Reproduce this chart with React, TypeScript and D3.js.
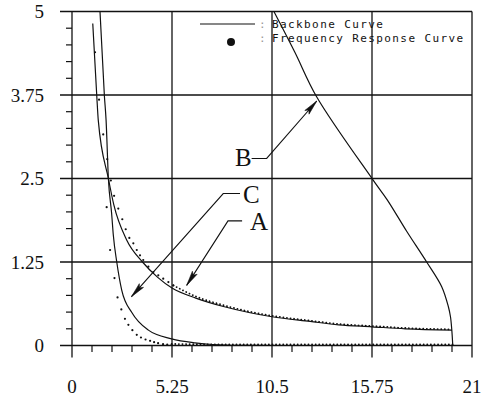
import React from 'react';
import * as d3 from 'd3';

type P = [number, number];

const X_TICKS = [0, 5.25, 10.5, 15.75, 21];
const X_TICK_LABELS = ['0', '5.25', '10.5', '15.75', '21'];
const Y_TICKS = [0, 1.25, 2.5, 3.75, 5];
const Y_TICK_LABELS = ['0', '1.25', '2.5', '3.75', '5'];
const X_MINOR_STEP = 1.05;
const Y_MINOR_STEP = 0.25;

// Backbone curves (frequency, amplitude)
const backboneA: P[] = [
  [1.09, 4.82], [1.3, 3.74], [1.38, 3.37], [1.91, 2.5], [2.2, 2.1], [2.87, 1.58],
  [3.7, 1.25], [4.5, 1.02], [5.25, 0.86], [6.5, 0.71], [8.0, 0.58], [9.35, 0.49],
  [10.5, 0.43], [12.5, 0.36], [14.0, 0.31], [15.75, 0.28], [17.5, 0.25], [19.95, 0.23],
];
const backboneB: P[] = [
  [10.6, 5.0], [11.7, 4.39], [12.85, 3.72], [15.8, 2.48], [16.55, 2.18], [17.57, 1.71],
  [18.62, 1.25], [19.41, 0.88], [19.76, 0.58], [19.87, 0.43], [19.94, 0.23], [19.99, 0.0],
];
const backboneC: P[] = [
  [1.47, 5.0], [1.7, 3.74], [1.79, 3.37], [1.91, 2.5], [2.08, 1.98], [2.17, 1.65],
  [2.35, 1.25], [2.61, 0.83], [3.15, 0.49], [4.01, 0.23], [5.23, 0.1], [6.46, 0.04],
  [7.4, 0.015], [8.82, 0.003], [10.9, 0.0],
];

// Frequency response points
const freqA: P[] = [
  [1.21, 4.39], [1.42, 3.68], [1.64, 3.16], [1.85, 2.79], [2.04, 2.47], [2.21, 2.24],
  [2.43, 2.05], [2.64, 1.89], [2.82, 1.74], [3.01, 1.61], [3.22, 1.53], [3.4, 1.43],
  [3.57, 1.35], [3.74, 1.28], [4.01, 1.18], [4.27, 1.1], [4.53, 1.05], [4.79, 1.0],
  [5.06, 0.95], [5.32, 0.9],
];
const freqATail: P[] = [
  [5.32, 0.9], [6.5, 0.735], [8.0, 0.6], [9.35, 0.505], [10.5, 0.445], [12.5, 0.372],
  [14.0, 0.322], [15.75, 0.292], [17.5, 0.262], [19.9, 0.242],
];
const freqC: P[] = [
  [1.82, 2.07], [2.0, 1.43], [2.23, 1.01], [2.39, 0.72], [2.59, 0.54], [2.78, 0.4],
  [2.96, 0.31], [3.17, 0.23], [3.4, 0.16], [3.62, 0.12], [3.86, 0.09], [4.1, 0.07],
  [4.31, 0.05], [4.52, 0.035], [4.78, 0.02], [5.0, 0.012], [5.23, 0.008],
];
const freqCTail: P[] = [
  [5.23, 0.008], [7.0, 0.003], [10.0, 0.0], [20.0, 0.0],
];

const LEGEND_LABELS = ['Backbone Curve', 'Frequency Response Curve'];

// Annotations: label position and leader path (data units), last point = arrow tip
const ANNOTATIONS: { label: string; at: P; path: P[] }[] = [
  { label: 'B', at: [8.56, 2.68], path: [[9.43, 2.8], [10.22, 2.8], [12.85, 3.66]] },
  { label: 'C', at: [8.98, 2.13], path: [[8.82, 2.275], [7.94, 2.275], [3.12, 0.73]] },
  { label: 'A', at: [9.35, 1.73], path: [[8.93, 1.865], [8.19, 1.865], [6.02, 0.9]] },
];

const W = 483;
const H = 399;

export default function App() {
  const x = d3.scaleLinear().domain([0, 21]).range([72, 472]);
  const y = d3.scaleLinear().domain([0, 5]).range([345.5, 11.5]);
  const x0 = x(0), x1 = x(21), y0 = y(0), y1 = y(5);

  const lineMono = d3.line<P>().x(d => x(d[0])).y(d => y(d[1])).curve(d3.curveMonotoneX);
  const lineCR = d3.line<P>().x(d => x(d[0])).y(d => y(d[1])).curve(d3.curveCatmullRom.alpha(0.5));
  const lineLin = d3.line<P>().x(d => x(d[0])).y(d => y(d[1]));

  const xMinor = d3.range(0, 21 + 1e-6, X_MINOR_STEP).filter(v => !X_TICKS.some(t => Math.abs(t - v) < 1e-6));
  const yMinor = d3.range(0, 5 + 1e-6, Y_MINOR_STEP).filter(v => !Y_TICKS.some(t => Math.abs(t - v) < 1e-6));

  const stroke = '#111';

  const arrowHead = (from: P, tip: P, len = 15, hw = 2.8) => {
    const fx = x(from[0]), fy = y(from[1]), tx = x(tip[0]), ty = y(tip[1]);
    const dx = tx - fx, dy = ty - fy;
    const d = Math.hypot(dx, dy);
    const ux = dx / d, uy = dy / d;
    const bx = tx - ux * len, by = ty - uy * len;
    const nx = -uy, ny = ux;
    return `M${tx},${ty}L${bx + nx * hw},${by + ny * hw}L${bx + ux * 3},${by + uy * 3}L${bx - nx * hw},${by - ny * hw}Z`;
  };

  return (
    <svg width={W} height={H} style={{ position: 'absolute', left: 0, top: 0, background: '#fff' }}>
      <defs>
        <clipPath id="plot">
          <rect x={x0} y={y1} width={x1 - x0} height={y0 - y1} />
        </clipPath>
      </defs>
      <rect x={0} y={0} width={W} height={H} fill="#fff" />

      {/* horizontal grid lines */}
      {Y_TICKS.map(t => (
        <line key={'hy' + t} x1={60} x2={x1} y1={y(t)} y2={y(t)} stroke={stroke} strokeWidth={1.3} />
      ))}
      {/* vertical grid lines */}
      {X_TICKS.map(t => (
        <line key={'vx' + t} x1={x(t)} x2={x(t)} y1={y1} y2={y0 + 12} stroke={stroke} strokeWidth={1.3} />
      ))}
      {xMinor.map(t => (
        <line key={'mx' + t} x1={x(t)} x2={x(t)} y1={y0} y2={y0 + 6.5} stroke={stroke} strokeWidth={1.2} />
      ))}
      {yMinor.map(t => (
        <line key={'my' + t} x1={x0 - 6} x2={x0} y1={y(t)} y2={y(t)} stroke={stroke} strokeWidth={1.2} />
      ))}

      {/* tick labels */}
      {Y_TICKS.map((t, i) => (
        <text key={'yl' + t} x={44} y={y(t)} dy="0.35em" textAnchor="end"
          fontFamily="'Liberation Serif', serif" fontSize={19} fill={stroke}>{Y_TICK_LABELS[i]}</text>
      ))}
      {X_TICKS.map((t, i) => (
        <text key={'xl' + t} x={x(t)} y={393} textAnchor="middle"
          fontFamily="'Liberation Serif', serif" fontSize={19} fill={stroke}>{X_TICK_LABELS[i]}</text>
      ))}

      <g clipPath="url(#plot)" fill="none" stroke={stroke}>
        <path d={lineMono(backboneA) || ''} strokeWidth={1.2} />
        <path d={lineCR(backboneB) || ''} strokeWidth={1.2} />
        <path d={lineMono(backboneC) || ''} strokeWidth={1.2} />
        <path d={lineMono(freqATail) || ''} strokeWidth={1.8} strokeDasharray="0.1 3.5" strokeLinecap="round" />
        <path d={lineMono(freqCTail) || ''} strokeWidth={1.8} strokeDasharray="0.1 3.5" strokeLinecap="round" transform="translate(0,-1)" />
      </g>
      {freqA.map((p, i) => (
        <circle key={'fa' + i} cx={x(p[0])} cy={y(p[1])} r={1.1} fill={stroke} />
      ))}
      {freqC.map((p, i) => (
        <circle key={'fc' + i} cx={x(p[0])} cy={y(p[1])} r={1.1} fill={stroke} />
      ))}

      {/* annotations */}
      {ANNOTATIONS.map(a => {
        const n = a.path.length;
        return (
          <g key={a.label}>
            <text x={x(a.at[0])} y={y(a.at[1])} fontFamily="'Liberation Serif', serif" fontSize={25} fill={stroke}>{a.label}</text>
            <path d={lineLin(a.path) || ''} fill="none" stroke={stroke} strokeWidth={1.1} />
            <path d={arrowHead(a.path[n - 2], a.path[n - 1])} fill={stroke} stroke={stroke} strokeWidth={0.6} />
          </g>
        );
      })}

      {/* legend */}
      <g fontFamily="'DejaVu Sans Mono', monospace" fontSize={11} fill={stroke}>
        <line x1={200} x2={255} y1={24} y2={24} stroke={stroke} strokeWidth={1.2} />
        <text x={259} y={28} fill="#999">:</text>
        <text x={272} y={28} letterSpacing={1.4}>{LEGEND_LABELS[0]}</text>
        <circle cx={231} cy={42} r={4} fill={stroke} />
        <text x={259} y={42} fill="#999">:</text>
        <text x={272} y={42} letterSpacing={1.4}>{LEGEND_LABELS[1]}</text>
      </g>
    </svg>
  );
}
